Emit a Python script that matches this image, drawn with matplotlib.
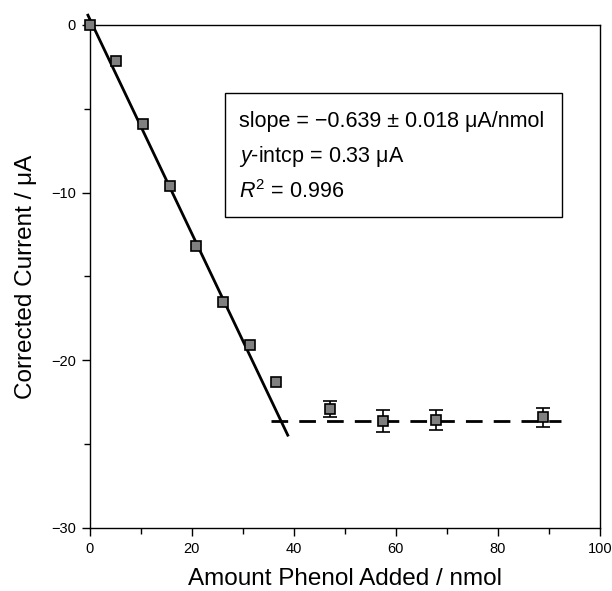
import numpy as np
import matplotlib
matplotlib.use("Agg")
import matplotlib.pyplot as plt
from matplotlib.patches import Rectangle

plt.rcParams['font.family'] = ['Liberation Sans', 'DejaVu Sans']
plt.rcParams['mathtext.fontset'] = 'custom'
plt.rcParams['mathtext.rm'] = 'Liberation Sans'
plt.rcParams['mathtext.it'] = 'Liberation Sans:italic'

# data
phenol = [0.0, 5.1, 10.4, 15.7, 20.8, 26.1, 31.4, 36.5, 47.1, 57.5, 67.8, 88.8]
current = [0.0, -2.15, -5.9, -9.6, -13.2, -16.5, -19.1, -21.3, -22.9, -23.6, -23.55, -23.4]
err = [0, 0, 0, 0, 0, 0, 0, 0, 0.5, 0.65, 0.6, 0.55]

slope = -0.639
intercept = 0.33
fit_range = [-0.4, 38.8]
plateau = -23.6
plateau_range = [35.6, 92.3]

fig = plt.figure(figsize=(6.12, 5.91), dpi=100)
ax = fig.add_axes([0.147, 0.1066, 0.833, 0.8511])

xf = np.array(fit_range)
ax.plot(xf, slope * xf + intercept, color='black', lw=2, clip_on=False, zorder=2)
ax.plot(plateau_range, [plateau, plateau], color='black', lw=2,
        dashes=(6, 4), zorder=2)

# error bars only for the plateau points
xe = [x for x, e in zip(phenol, err) if e > 0]
ye = [y for y, e in zip(current, err) if e > 0]
ee = [e for e in err if e > 0]
ax.errorbar(xe, ye, yerr=ee, fmt='none', ecolor='black', elinewidth=1.2,
            capsize=5, capthick=1.2, zorder=3)
ax.plot(phenol, current, 's', ms=7.5, mfc='#7f7f7f', mec='black', mew=1.2,
        clip_on=False, zorder=4)

ax.set_xlim(0, 100)
ax.set_ylim(-30, 0)
ax.set_xticks([0, 20, 40, 60, 80, 100])
ax.set_xticks([10, 30, 50, 70, 90], minor=True)
ax.set_yticks([-30, -20, -10, 0])
ax.set_yticks([-25, -15, -5], minor=True)
ax.set_yticklabels(['\u221230', '\u221220', '\u221210', '0'])
ax.tick_params(which='both', direction='out', labelsize=10.5, width=1)
ax.tick_params(which='major', length=6, pad=4)
ax.tick_params(which='minor', length=4)
for s in ax.spines.values():
    s.set_linewidth(1)

ax.set_xlabel('Amount Phenol Added / nmol', fontsize=17.5, labelpad=9)
ax.set_ylabel('Corrected Current / \u03bcA', fontsize=17.5, labelpad=10)

ax.add_patch(Rectangle((0.265, 0.618), 0.661, 0.247, transform=ax.transAxes,
                       fc='white', ec='black', lw=1, zorder=1))
txt = ('slope = \u22120.639 \u00b1 0.018 \u03bcA/nmol\n'
       '$\\mathit{y}$-intcp = 0.33 \u03bcA\n'
       '$\\mathit{R}^2$ = 0.996')
ax.text(0.293, 0.829, txt, transform=ax.transAxes, fontsize=15.5,
        va='top', ha='left', linespacing=1.65, zorder=1.5)

fig.savefig('out.png', dpi=100)
